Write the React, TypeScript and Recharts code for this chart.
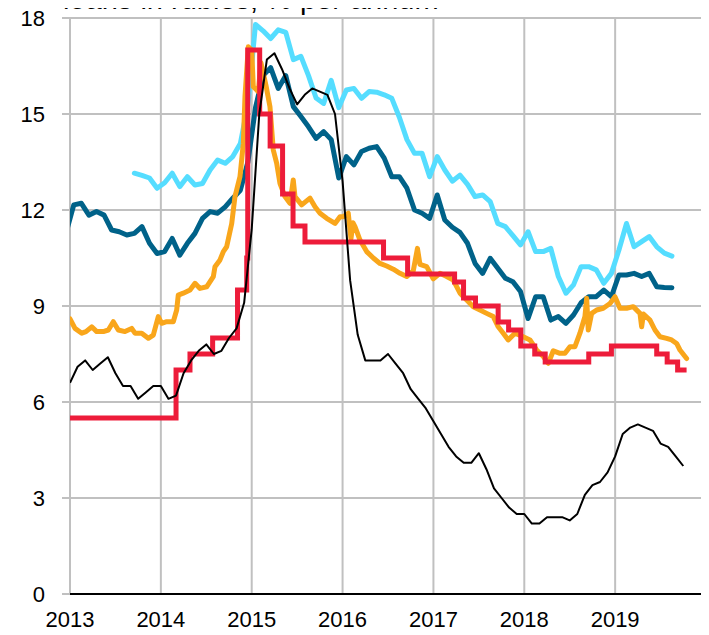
import React from 'react';
import { LineChart, Line, XAxis, YAxis, CartesianGrid } from 'recharts';

// ---------- data ----------
const yearTicks = [2013, 2014, 2015, 2016, 2017, 2018, 2019, 2020];
const valueTicks = [0, 3, 6, 9, 12, 15, 18];
const titleText = 'loans in rubles, % per annum';

// light blue: monthly from Sep 2013 (plotted mid-month)
const lightBlueStart = { year: 2013, month: 8, offset: 0.5 };
const lightBlueValues = [
  13.15, 13.08, 13.0, 12.68,
  12.85, 13.15, 12.73, 13.04, 12.78, 12.83, 13.25, 13.56, 13.46, 13.67, 14.08, 15.3,
  17.8, 17.6, 17.36, 17.63, 17.55, 16.7, 16.8, 16.2, 15.5, 15.33, 16.05, 15.2,
  15.75, 15.8, 15.49, 15.7, 15.68, 15.6, 15.49, 14.9, 14.2, 13.77, 13.77, 13.04,
  13.67, 13.25, 12.9, 13.09, 12.8, 12.42, 12.47, 12.26, 11.58, 11.48, 11.2, 10.91,
  11.32, 10.7, 10.7, 10.8, 9.92, 9.4, 9.66, 10.23, 10.23, 10.13, 9.71, 10.02,
  10.75, 11.58, 10.85, 11.01, 11.17, 10.85, 10.65, 10.56,
];

// dark blue: monthly from Dec 2012 (plotted mid-month)
const darkBlueStart = { year: 2012, month: 11, offset: 0.5 };
const darkBlueValues = [
  11.3,
  12.16, 12.21, 11.84, 11.95, 11.84, 11.375, 11.32, 11.22, 11.27, 11.48, 10.96, 10.64,
  10.7, 11.11, 10.59, 10.96, 11.27, 11.74, 11.95, 11.9, 12.1, 12.37, 12.62, 13.5,
  15.2, 16.2, 16.45, 15.8, 16.2, 15.23, 14.92, 14.6, 14.24, 14.45, 14.2, 13.0,
  13.67, 13.41, 13.83, 13.93, 13.98, 13.62, 13.04, 13.04, 12.68, 12.0, 11.9, 11.74,
  12.47, 11.69, 11.46, 11.3, 10.96, 10.33, 10.02, 10.49, 10.18, 9.87, 9.76, 9.45,
  8.61, 9.29, 9.29, 8.56, 8.67, 8.46, 8.72, 9.1, 9.29, 9.29, 9.5, 9.29,
  9.97, 9.97, 10.02, 9.92, 10.02, 9.6, 9.58, 9.57,
];

// black (inflation, % y/y): monthly from Dec 2012 (plotted at month end)
const blackStart = { year: 2012, month: 11, offset: 1 };
const blackValues = [
  6.6,
  7.1, 7.3, 7.0, 7.2, 7.4, 6.9, 6.5, 6.5, 6.1, 6.3, 6.5, 6.5,
  6.1, 6.2, 6.9, 7.3, 7.6, 7.8, 7.5, 7.6, 8.0, 8.3, 9.1, 11.4,
  15.0, 16.7, 16.9, 16.4, 15.8, 15.3, 15.6, 15.8, 15.7, 15.6, 15.0, 12.9,
  9.8, 8.1, 7.3, 7.3, 7.3, 7.5, 7.2, 6.9, 6.4, 6.1, 5.8, 5.4,
  5.0, 4.6, 4.3, 4.1, 4.1, 4.4, 3.9, 3.3, 3.0, 2.7, 2.5, 2.5,
  2.2, 2.2, 2.4, 2.4, 2.4, 2.3, 2.5, 3.1, 3.4, 3.5, 3.8, 4.3,
  5.0, 5.2, 5.3, 5.2, 5.1, 4.7, 4.6, 4.3, 4.0,
];

// red (key rate): step changes
const redDates = [
  '2013-01-01', '2014-03-03', '2014-04-28', '2014-07-28', '2014-11-05', '2014-12-12',
  '2014-12-16', '2015-02-02', '2015-03-16', '2015-05-05', '2015-06-16', '2015-08-03',
  '2016-06-14', '2016-09-19', '2017-03-27', '2017-05-02', '2017-06-19', '2017-09-18',
  '2017-10-30', '2017-12-18', '2018-02-12', '2018-03-26', '2018-09-17', '2018-12-17',
  '2019-06-17', '2019-07-29', '2019-09-09', '2019-10-15',
];
const redValues = [
  5.5, 7.0, 7.5, 8.0, 9.5, 10.5,
  17.0, 15.0, 14.0, 12.5, 11.5, 11.0,
  10.5, 10.0, 9.75, 9.25, 9.0, 8.5,
  8.25, 7.75, 7.5, 7.25, 7.5, 7.75,
  7.5, 7.25, 7.0, 7.0,
];

// orange: irregular observations, months since Jan 2013
const orangeMonths = [
  0, 0.66, 1.55, 2.11, 2.87, 3.53, 4.4, 5.06, 5.72, 6.38, 7.26, 8.15, 8.58, 9.47, 10.34, 11.0,
  11.66, 12.11, 12.77, 13.64, 14.09, 14.3, 14.96, 15.85, 16.51, 17.17, 18.05, 18.93, 19.15,
  19.81, 20.25, 20.69, 21.36, 21.79, 22.45, 22.89, 23.11, 23.55, 24.0, 24.21, 24.87, 25.22,
  25.88, 26.41, 26.85, 27.3, 27.73, 28.39, 29.05, 29.49, 29.71, 30.6, 31.7, 32.36, 33.02,
  33.9, 35.0, 35.66, 36.09, 36.75, 37.11, 37.37, 37.64, 38.3, 39.18, 40.06, 40.94, 41.82,
  42.7, 43.58, 44.47, 45.34, 45.89, 46.22, 47.11, 47.98, 48.86, 49.75, 50.62, 51.51, 52.39,
  53.26, 54.15, 55.03, 55.9, 56.56, 57.22, 57.88, 58.77, 59.86, 60.75, 61.63, 62.51, 63.17,
  63.83, 64.71, 65.37, 66.03, 66.69, 67.35, 68.01, 68.24, 68.45, 68.9, 69.56, 70.43, 71.32,
  71.98, 72.64, 73.52, 74.39, 75.28, 75.5, 75.74, 76.6, 77.26, 77.92, 78.8, 79.46, 80.12,
  80.56, 81.44,
];
const orangeValues = [
  8.6, 8.3, 8.15, 8.2, 8.35, 8.2, 8.2, 8.25, 8.51, 8.25, 8.2, 8.3, 8.15, 8.15, 7.99, 8.09,
  8.67, 8.46, 8.51, 8.51, 8.875, 9.34, 9.4, 9.5, 9.71, 9.55, 9.6, 9.92, 10.23,
  10.44, 10.7, 10.85, 11.58, 12.42, 13.04, 14.08, 15.54, 17.1, 17.0, 15.85, 15.7, 16.6,
  15.9, 15.23, 13.875, 13.46, 12.83, 12.42, 12.21, 12.94, 12.42, 12.16, 12.37, 12.1, 11.9,
  11.74, 11.58, 11.79, 11.79, 11.9, 11.1, 11.6, 11.48, 11.06, 10.7, 10.5, 10.33, 10.25,
  10.15, 10.02, 9.92, 10.1, 10.8, 10.3, 10.23, 9.85, 10.02, 9.92, 9.81, 9.4, 9.19,
  8.98, 8.875, 8.77, 8.67, 8.35, 8.15, 7.94, 8.15, 8.04, 7.94, 7.625, 7.42, 7.21,
  7.6, 7.52, 7.52, 7.73, 7.73, 8.15, 8.67, 9.24, 8.25, 8.77, 8.875, 8.93, 9.08,
  9.29, 8.93, 8.93, 8.98, 8.77, 8.35, 8.75, 8.56, 8.25, 8.04, 7.99, 7.94, 7.83,
  7.625, 7.36,
];

// ---------- helpers ----------
type Pt = { t: number; v: number };
const monthly = (s: { year: number; month: number; offset: number }, vals: number[]): Pt[] =>
  vals.map((v, i) => ({ t: s.year + (s.month + i + s.offset) / 12, v }));
const dateToYear = (d: string): number => {
  const [y, m, dd] = d.split('-').map(Number);
  const start = Date.UTC(y, 0, 1);
  const end = Date.UTC(y + 1, 0, 1);
  return y + (Date.UTC(y, m - 1, dd) - start) / (end - start);
};

const lightBlueData = monthly(lightBlueStart, lightBlueValues);
const darkBlueData = monthly(darkBlueStart, darkBlueValues);
const blackData = monthly(blackStart, blackValues);
const redData: Pt[] = redDates.map((d, i) => ({ t: dateToYear(d), v: redValues[i] }));
const orangeData: Pt[] = orangeMonths.map((m, i) => ({ t: 2013 + m / 12, v: orangeValues[i] }));

const FONT = '"Liberation Sans", Arial, sans-serif';
const GRID = '#c0c0c0';

export default function App() {
  return (
    <div style={{ position: 'relative', margin: -8, width: 709, height: 635, background: '#fff', overflow: 'hidden' }}>
      <LineChart
        width={709}
        height={635}
        margin={{ top: 18, right: 3, bottom: 0, left: 0 }}
        style={{ fontFamily: FONT }}
      >
        <CartesianGrid stroke={GRID} strokeWidth={2} />
        <XAxis
          type="number"
          dataKey="t"
          domain={[2013, 2020]}
          ticks={yearTicks}
          allowDataOverflow
          interval={0}
          height={41}
          tickFormatter={(v: number) => (v === 2020 ? '' : String(v))}
          axisLine={{ stroke: '#000', strokeWidth: 2 }}
          tickLine={false}
          tickSize={0}
          tickMargin={17}
          tick={{ fontSize: 22, fill: '#000', fontFamily: FONT }}
        />
        <YAxis
          type="number"
          dataKey="v"
          domain={[0, 18]}
          ticks={valueTicks}
          interval={0}
          width={70}
          axisLine={false}
          tickLine={{ stroke: GRID, strokeWidth: 2 }}
          tickSize={8}
          tickMargin={17}
          tick={{ fontSize: 22, fill: '#000', fontFamily: FONT }}
        />
        <Line data={lightBlueData} dataKey="v" type="linear" stroke="#55DDFF" strokeWidth={5}
          dot={false} activeDot={false} isAnimationActive={false} strokeLinejoin="round" strokeLinecap="round" />
        <Line data={darkBlueData} dataKey="v" type="linear" stroke="#006289" strokeWidth={5}
          dot={false} activeDot={false} isAnimationActive={false} strokeLinejoin="round" strokeLinecap="round" />
        <Line data={orangeData} dataKey="v" type="linear" stroke="#F9A61B" strokeWidth={5}
          dot={false} activeDot={false} isAnimationActive={false} strokeLinejoin="round" strokeLinecap="round" />
        <Line data={redData} dataKey="v" type="stepAfter" stroke="#ED1C3A" strokeWidth={5}
          dot={false} activeDot={false} isAnimationActive={false} strokeLinejoin="miter" />
        <Line data={blackData} dataKey="v" type="linear" stroke="#000" strokeWidth={2}
          dot={false} activeDot={false} isAnimationActive={false} strokeLinejoin="round" />
      </LineChart>
      <svg width={709} height={20} style={{ position: 'absolute', left: 0, top: 0, pointerEvents: 'none' }}>
        <text x={63} y={9} fontSize={29} fontFamily={FONT} fill="#000">{titleText}</text>
      </svg>
    </div>
  );
}
